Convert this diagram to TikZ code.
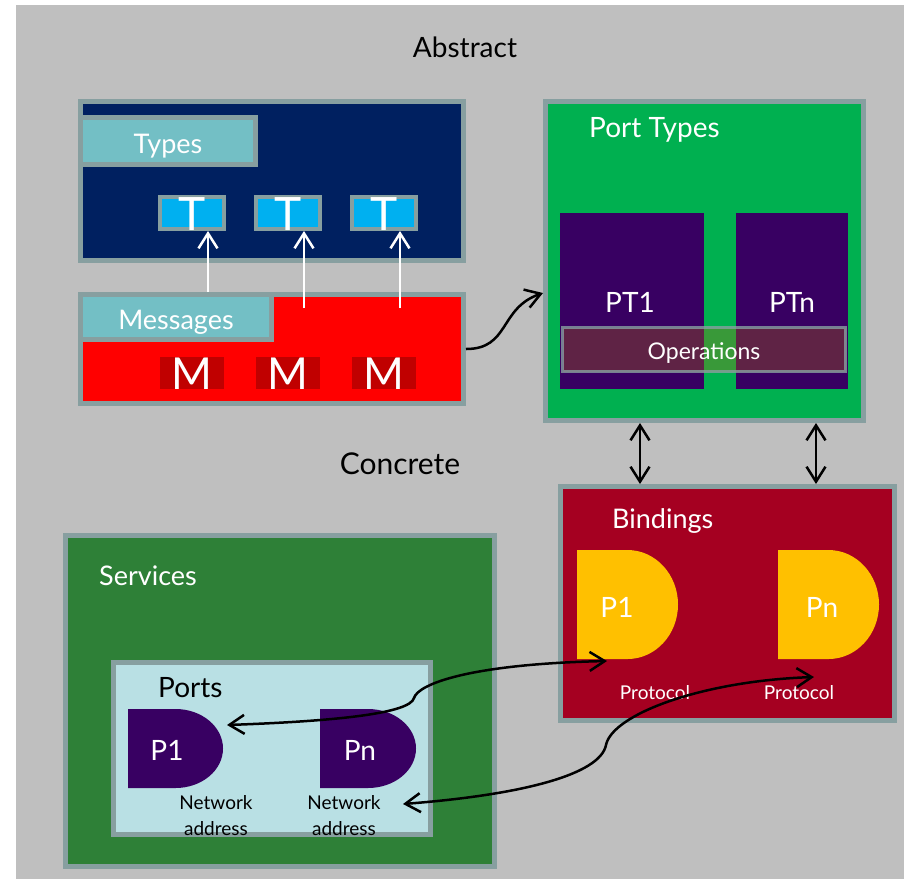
\documentclass[tikz,border=0pt]{standalone}
\usepackage{fontspec}
\setmainfont{Lato}
\usetikzlibrary{arrows.meta,calc}
\definecolor{bggray}{HTML}{BFBFBF}
\definecolor{edgec}{HTML}{879FA0}
\definecolor{navy}{HTML}{002060}
\definecolor{tealc}{HTML}{73BFC5}
\definecolor{tblue}{HTML}{00B0F0}
\definecolor{mred}{HTML}{C00000}
\definecolor{ptgreen}{HTML}{00B050}
\definecolor{purp}{HTML}{380062}
\definecolor{opcol}{HTML}{B06D0C}
\definecolor{bindred}{HTML}{A50021}
\definecolor{goldc}{HTML}{FFC000}
\definecolor{svgreen}{HTML}{2E8037}
\definecolor{portsbg}{HTML}{B9E0E4}
\newcommand\fsz[1]{\fontsize{#1}{#1}\selectfont}
\tikzset{
  box/.style={draw=edgec, line width=5pt, anchor=north west, inner sep=0pt},
  plain/.style={draw=none, anchor=north west, inner sep=0pt},
  wtxt/.style={text=white, inner sep=0pt, anchor=base},
  ktxt/.style={text=black, inner sep=0pt, anchor=base},
  conn/.style={draw=black, line width=2.5pt, {Straight Barb[length=15pt,width=19pt]}-{Straight Barb[length=15pt,width=19pt]}},
  oneway/.style={draw=black, line width=2.5pt, -{Straight Barb[length=15pt,width=19pt]}},
  warrow/.style={draw=white, line width=2.5pt, -{Straight Barb[length=15pt,width=19pt]}},
  nettxt/.style={text=black, inner sep=0pt, anchor=center, align=center, font={\fontsize{19}{26}\selectfont}},
}
\begin{document}
\begin{tikzpicture}[x=1pt,y=-1pt]
\useasboundingbox (0,0) rectangle (904,879);
\fill[white] (0,0) rectangle (904,879);
\fill[bggray] (16,5) rectangle (904,879);

% ---------- Types / Messages ----------
\node[box, fill=navy, minimum width=383pt, minimum height=159pt] (types) at (78,99) {};
\node[box, fill=tealc, minimum width=175pt, minimum height=47pt] (typeslbl) at (78,115) {};
\node[box, line width=4pt, fill=tblue, minimum width=64pt, minimum height=32pt] (t1) at (158,195) {};
\node[box, line width=4pt, fill=tblue, minimum width=64pt, minimum height=32pt] (t2) at (254,195) {};
\node[box, line width=4pt, fill=tblue, minimum width=64pt, minimum height=32pt] (t3) at (350,195) {};

\node[box, fill=red, minimum width=383pt, minimum height=109pt] (msgs) at (78,292) {};
\node[box, fill=tealc, minimum width=191pt, minimum height=45pt] (msgslbl) at (78,292) {};
\node[plain, fill=mred, minimum width=64pt, minimum height=32pt] (m1) at (160,357) {};
\node[plain, fill=mred, minimum width=64pt, minimum height=32pt] (m2) at (256,357) {};
\node[plain, fill=mred, minimum width=64pt, minimum height=32pt] (m3) at (352,357) {};

\node[wtxt, font=\fsz{27}] (typestxt) at (168,153) {Types};
\node[wtxt, font=\fsz{27}] (msgstxt) at (176,329) {Messages};
\node[wtxt, font=\fsz{46}] (t1txt) at (192,230) {T};
\node[wtxt, font=\fsz{46}] (t2txt) at (288,230) {T};
\node[wtxt, font=\fsz{46}] (t3txt) at (384,230) {T};
\node[wtxt, font=\fsz{44}] (m1txt) at (192,389) {M};
\node[wtxt, font=\fsz{44}] (m2txt) at (288,389) {M};
\node[wtxt, font=\fsz{44}] (m3txt) at (384,389) {M};

\draw[warrow] ($(t1.south |- msgs.north)+(16,0)$) -- ($(t1.south)+(16,0)$);
\draw[warrow] ($(t2.south |- msgs.north)+(16,16)$) -- ($(t2.south)+(16,0)$);
\draw[warrow] ($(t3.south |- msgs.north)+(16,16)$) -- ($(t3.south)+(16,0)$);

% ---------- Port Types ----------
\node[box, fill=ptgreen, minimum width=318pt, minimum height=319pt] (ptypes) at (543,99) {};
\node[plain, fill=purp, minimum width=144pt, minimum height=176pt] (pt1) at (560,213) {};
\node[plain, fill=purp, minimum width=112pt, minimum height=176pt] (ptn) at (736,213) {};
\node[box, line width=3pt, draw opacity=0.8, fill=opcol, fill opacity=0.33, minimum width=283pt, minimum height=44pt] (ops) at (561,326) {};
\node[wtxt, font=\fsz{28}, anchor=base west] (pttxt) at (589,137) {Port Types};
\node[wtxt, font=\fsz{28}] (pt1txt) at (630,312) {PT1};
\node[wtxt, font=\fsz{28}] (ptntxt) at (792,312) {PTn};
\node[wtxt, font=\fsz{23}] (opstxt) at (704,359) {Operations};

\draw[oneway] (msgs.east) .. controls +(44,0) and +(-44,15) .. ($(ptypes.west)+(0,32)$);

% ---------- labels ----------
\node[ktxt, font=\fsz{28}] (abstract) at (465,57) {Abstract};
\node[ktxt, font=\fsz{30}] (concrete) at (400,474) {Concrete};

% ---------- Bindings ----------
\node[box, fill=bindred, minimum width=334pt, minimum height=234pt] (bind) at (558,484) {};
\fill[goldc] (577,550) -- (627.5,550) arc[start angle=90, end angle=-90, x radius=50.5pt, y radius=54.5pt] -- (577,659) -- cycle;
\fill[goldc] (778,550) -- (828.5,550) arc[start angle=90, end angle=-90, x radius=50.5pt, y radius=54.5pt] -- (778,659) -- cycle;
\node[wtxt, font=\fsz{27}, anchor=base west] (bindtxt) at (612,528) {Bindings};
\node[wtxt, font=\fsz{28}] (bp1) at (617,617) {P1};
\node[wtxt, font=\fsz{28}] (bpn) at (822,617) {Pn};
\node[wtxt, font=\fsz{19}] (prot1) at (655,699) {Protocol};
\node[wtxt, font=\fsz{19}] (prot2) at (799,699) {Protocol};

\draw[conn] ($(ptypes.south)+(-64.5,0)$) -- ($(bind.north)+(-87.5,0)$);
\draw[conn] ($(ptypes.south)+(111.5,0)$) -- ($(bind.north)+(88.5,0)$);

% ---------- Services ----------
\node[box, fill=svgreen, minimum width=429pt, minimum height=331pt] (serv) at (63,533) {};
\node[box, fill=portsbg, minimum width=317pt, minimum height=172pt] (ports) at (111,660) {};
\fill[purp] (128,709) -- (175.5,709) arc[start angle=90, end angle=-90, x radius=47.5pt, y radius=39.5pt] -- (128,788) -- cycle;
\fill[purp] (320,709) -- (368,709) arc[start angle=90, end angle=-90, x radius=48pt, y radius=39.5pt] -- (320,788) -- cycle;
\node[wtxt, font=\fsz{27}, anchor=base west] (servtxt) at (99,585) {Services};
\node[ktxt, font=\fsz{28}, anchor=base west] (portstxt) at (158,697) {Ports};
\node[wtxt, font=\fsz{28}] (pp1) at (167,760) {P1};
\node[wtxt, font=\fsz{28}] (ppn) at (360,760) {Pn};
\node[nettxt] (net1) at (216,816) {Network\\address};
\node[nettxt] (net2) at (344,816) {Network\\address};

\coordinate (pP1tip) at (227,725);
\coordinate (bP1tip) at (607,661);
\coordinate (pPntip) at (403,804);
\coordinate (bPntip) at (814,677);
\draw[conn] (pP1tip) .. controls (340,721) and (410,713) .. (414,698) .. controls (418,684) and (470,664) .. (bP1tip);
\draw[conn] (pPntip) .. controls (520,795) and (600,775) .. (606,745) .. controls (612,715) and (700,681) .. (bPntip);
\end{tikzpicture}
\end{document}
